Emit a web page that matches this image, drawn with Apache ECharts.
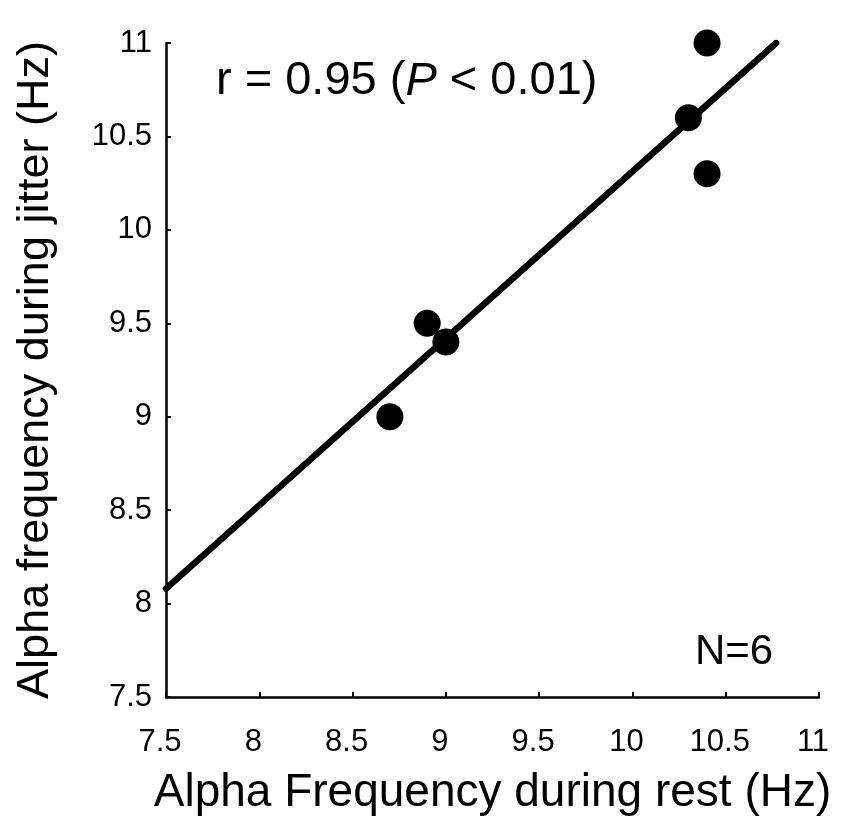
<!DOCTYPE html>
<html><head><meta charset="utf-8">
<script src="https://cdn.jsdelivr.net/npm/echarts@6/dist/echarts.min.js"></script>
<style>html,body{margin:0;padding:0;background:#fff}#c{width:845px;height:821px}</style>
</head><body><div id="c"></div>
<script>
const restFreq = [8.7, 8.9, 9.0, 10.3, 10.4, 10.4];
const jitterFreq = [9.0, 9.5, 9.4, 10.6, 11.0, 10.3];
const fitX = [7.5, 10.77];
const fitY = [8.08, 11.0];
const xTicks = [7.5, 8, 8.5, 9, 9.5, 10, 10.5, 11];
const yTicks = [7.5, 8, 8.5, 9, 9.5, 10, 10.5, 11];

const font = 'Liberation Sans, Arial, sans-serif';
const chart = echarts.init(document.getElementById('c'));
chart.setOption({
  animation: false,
  backgroundColor: '#fff',
  grid: {left: 166, top: 43, right: 26, bottom: 123},
  title: {
    text: '{a|r = 0.95 (}{b|P}{a| < 0.01)}',
    left: 211, top: 53,
    textStyle: {rich: {
      a: {fontFamily: font, fontSize: 47, color: '#000', fontWeight: 'normal'},
      b: {fontFamily: font, fontSize: 47, color: '#000', fontStyle: 'italic', fontWeight: 'normal'}
    }}
  },
  graphic: [{
    type: 'text', left: 695, top: 631,
    style: {text: 'N=6', font: '42px ' + font, fill: '#000'}
  }],
  xAxis: {
    type: 'value', min: xTicks[0], max: xTicks[xTicks.length - 1], interval: 0.5,
    name: 'Alpha Frequency during rest (Hz)', nameLocation: 'middle', nameGap: 73,
    nameTextStyle: {fontFamily: font, fontSize: 46, color: '#000'},
    axisLine: {show: true, lineStyle: {color: '#000', width: 2.5}},
    axisTick: {show: true, inside: true, length: 5, lineStyle: {color: '#000', width: 2}},
    axisLabel: {fontFamily: font, fontSize: 31, color: '#000', margin: 30, padding: [0, 12, 0, 0]},
    splitLine: {show: false}
  },
  yAxis: {
    type: 'value', min: yTicks[0], max: yTicks[yTicks.length - 1], interval: 0.5,
    name: 'Alpha frequency during jitter (Hz)', nameLocation: 'middle', nameGap: 108,
    nameRotate: 90,
    nameTextStyle: {fontFamily: font, fontSize: 45, color: '#000'},
    axisLine: {show: true, lineStyle: {color: '#000', width: 2.5}},
    axisTick: {show: true, inside: true, length: 5, lineStyle: {color: '#000', width: 2}},
    axisLabel: {fontFamily: font, fontSize: 31, color: '#000', margin: 14},
    splitLine: {show: false}
  },
  series: [
    {
      type: 'line', data: fitX.map((x, i) => [x, fitY[i]]), showSymbol: false,
      lineStyle: {color: '#000', width: 6.5, cap: 'round'}, z: 2
    },
    {
      type: 'scatter', data: restFreq.map((x, i) => [x, jitterFreq[i]]),
      symbol: 'circle', symbolSize: 27, itemStyle: {color: '#000', opacity: 1}, z: 3
    }
  ]
});
</script></body></html>
